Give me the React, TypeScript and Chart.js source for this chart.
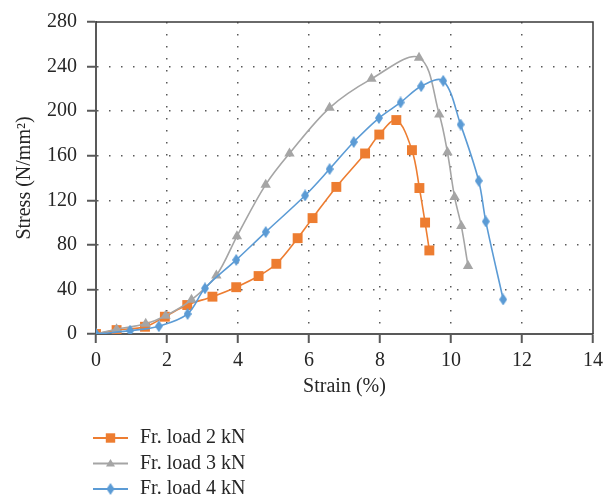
import React, { useEffect, useRef } from "react";
import { Chart, registerables } from "chart.js";

Chart.register(...registerables);

const strain2 = [0, 0.58, 1.38, 1.94, 2.57, 3.28, 3.95, 4.58, 5.08, 5.68, 6.1, 6.77, 7.58, 7.98, 8.46, 8.9, 9.11, 9.27, 9.39];
const stress2 = [0, 3.5, 6.5, 15.5, 26, 33.5, 42, 52, 63, 86, 104, 132, 162, 179, 192, 165, 131, 100, 75];

const strain3 = [0, 0.58, 1.4, 1.96, 2.69, 3.39, 3.97, 4.78, 5.45, 6.58, 7.76, 9.1, 9.67, 9.9, 10.1, 10.29, 10.48];
const stress3 = [0, 4.2, 9.2, 16.4, 30.7, 52.5, 87.7, 134, 162, 203, 229, 248, 197, 163, 123, 97, 61];

const strain4 = [0, 0.96, 1.77, 2.58, 3.07, 3.95, 4.78, 5.89, 6.58, 7.26, 7.97, 8.58, 9.16, 9.78, 10.27, 10.78, 10.98, 11.47];
const stress4 = [0, 3, 7, 18, 41, 66.5, 91.5, 124.3, 148, 172.3, 193.8, 207.8, 222.4, 227.2, 188, 137.5, 101, 31];

const seriesLabels = ["Fr. load 2 kN", "Fr. load 3 kN", "Fr. load 4 kN"];
const xTitle = "Strain (%)";
const yTitle = "Stress (N/mm\u00B2)";

const ORANGE = "#ED7D31";
const GRAY = "#A5A5A5";
const BLUE = "#5B9BD5";
const AXIS = "#595959";
const TEXT = "#262626";
const FONT = "'Liberation Serif', 'DejaVu Serif', serif";

function makeDiamond(w: number, h: number, color: string) {
  const c = document.createElement("canvas");
  c.width = w;
  c.height = h;
  const ctx = c.getContext("2d")!;
  ctx.fillStyle = color;
  ctx.beginPath();
  ctx.moveTo(w / 2, 0);
  ctx.lineTo(w, h / 2);
  ctx.lineTo(w / 2, h);
  ctx.lineTo(0, h / 2);
  ctx.closePath();
  ctx.fill();
  return c;
}

function pts(xs: number[], ys: number[]) {
  return xs.map((x, i) => ({ x, y: ys[i] }));
}

export default function App() {
  const ref = useRef<HTMLCanvasElement>(null);

  useEffect(() => {
    if (!ref.current) return;
    const diamond = makeDiamond(8, 12, BLUE);

    const frame = {
      id: "frame",
      afterDatasetsDraw(chart: any) {
        const { ctx, chartArea: a } = chart;
        ctx.save();
        ctx.strokeStyle = "#3a3a3a";
        ctx.lineWidth = 1.5;
        ctx.beginPath();
        ctx.moveTo(a.left, a.top);
        ctx.lineTo(a.right, a.top);
        ctx.lineTo(a.right, a.bottom);
        ctx.stroke();
        ctx.restore();
      },
    };

    const legend = {
      id: "customLegend",
      afterDraw(chart: any) {
        const { ctx } = chart;
        const colors = [ORANGE, GRAY, BLUE];
        const rows = [438, 463.5, 489];
        ctx.save();
        rows.forEach((y, i) => {
          const x0 = 93, x1 = 128, cx = 110.5;
          ctx.strokeStyle = colors[i];
          ctx.lineWidth = 2;
          ctx.beginPath();
          ctx.moveTo(x0, y);
          ctx.lineTo(x1, y);
          ctx.stroke();
          ctx.fillStyle = colors[i];
          if (i === 0) {
            ctx.fillRect(cx - 4.7, y - 4.7, 9.4, 9.4);
          } else if (i === 1) {
            ctx.beginPath();
            ctx.moveTo(cx, y - 4.5);
            ctx.lineTo(cx + 4.5, y + 3);
            ctx.lineTo(cx - 4.5, y + 3);
            ctx.closePath();
            ctx.fill();
          } else {
            ctx.drawImage(diamond, cx - 4, y - 6);
          }
          ctx.fillStyle = TEXT;
          ctx.font = `20px ${FONT}`;
          ctx.textBaseline = "middle";
          ctx.textAlign = "left";
          ctx.fillText(chart.data.datasets[i].label, 140, y);
        });
        ctx.restore();
      },
    };

    const common = {
      borderWidth: 1.6,
      tension: 0.35,
      showLine: true,
      fill: false,
    };

    const chart = new Chart(ref.current, {
      type: "line",
      data: {
        datasets: [
          {
            ...common,
            label: seriesLabels[0],
            data: pts(strain2, stress2),
            borderColor: ORANGE,
            backgroundColor: ORANGE,
            pointStyle: "rect",
            pointRadius: 7,
            pointBorderWidth: 0,
            order: 3,
          },
          {
            ...common,
            label: seriesLabels[1],
            data: pts(strain3, stress3),
            borderColor: GRAY,
            backgroundColor: GRAY,
            pointStyle: "triangle",
            pointRadius: 6,
            pointBorderWidth: 0,
            order: 2,
          },
          {
            ...common,
            label: seriesLabels[2],
            data: pts(strain4, stress4),
            borderColor: BLUE,
            backgroundColor: BLUE,
            pointStyle: diamond as any,
            pointRadius: 5,
            pointBorderWidth: 0,
            order: 1,
          },
        ],
      },
      options: {
        animation: false,
        responsive: true,
        maintainAspectRatio: false,
        parsing: false as any,
        layout: { padding: { top: 10, right: 12, bottom: 99, left: 0 } },
        plugins: {
          legend: { display: false },
          tooltip: { enabled: false },
        },
        scales: {
          x: {
            type: "linear",
            min: 0,
            max: 14,
            ticks: {
              stepSize: 2,
              color: TEXT,
              font: { family: FONT, size: 20 },
              padding: 6,
              maxRotation: 0,
            },
            grid: {
              color: (c: any) =>
                c.tick && (c.tick.value === 0 || c.tick.value === 14) ? "rgba(0,0,0,0)" : AXIS,
              lineWidth: 1.5,
              tickColor: AXIS,
              tickLength: 9,
              tickWidth: 2,
            },
            border: { color: AXIS, width: 2, dash: [1.5, 10.5] },
            title: {
              display: true,
              text: xTitle,
              color: TEXT,
              font: { family: FONT, size: 20 },
              padding: { top: 2, bottom: 3 },
            },
            afterFit: (s: any) => {
              s.height = 68;
              s.paddingRight = 0;
              s.paddingLeft = 0;
            },
          },
          y: {
            type: "linear",
            min: 0,
            max: 280,
            ticks: {
              stepSize: 40,
              color: TEXT,
              font: { family: FONT, size: 20 },
              padding: 10,
            },
            grid: {
              color: (c: any) =>
                c.tick && (c.tick.value === 0 || c.tick.value === 280) ? "rgba(0,0,0,0)" : AXIS,
              lineWidth: 1.5,
              tickColor: AXIS,
              tickLength: 9,
              tickWidth: 2,
            },
            border: { color: AXIS, width: 2, dash: [1.5, 10.5] },
            title: {
              display: true,
              text: yTitle,
              color: TEXT,
              font: { family: FONT, size: 20 },
              padding: { top: 13, bottom: 0 },
            },
            afterFit: (s: any) => {
              s.width = 96;
            },
          },
        },
      },
      plugins: [frame, legend],
    });

    return () => chart.destroy();
  }, []);

  return (
    <div style={{ position: "fixed", left: 0, top: 0, width: 605, height: 501 }}>
      <canvas ref={ref} />
    </div>
  );
}
